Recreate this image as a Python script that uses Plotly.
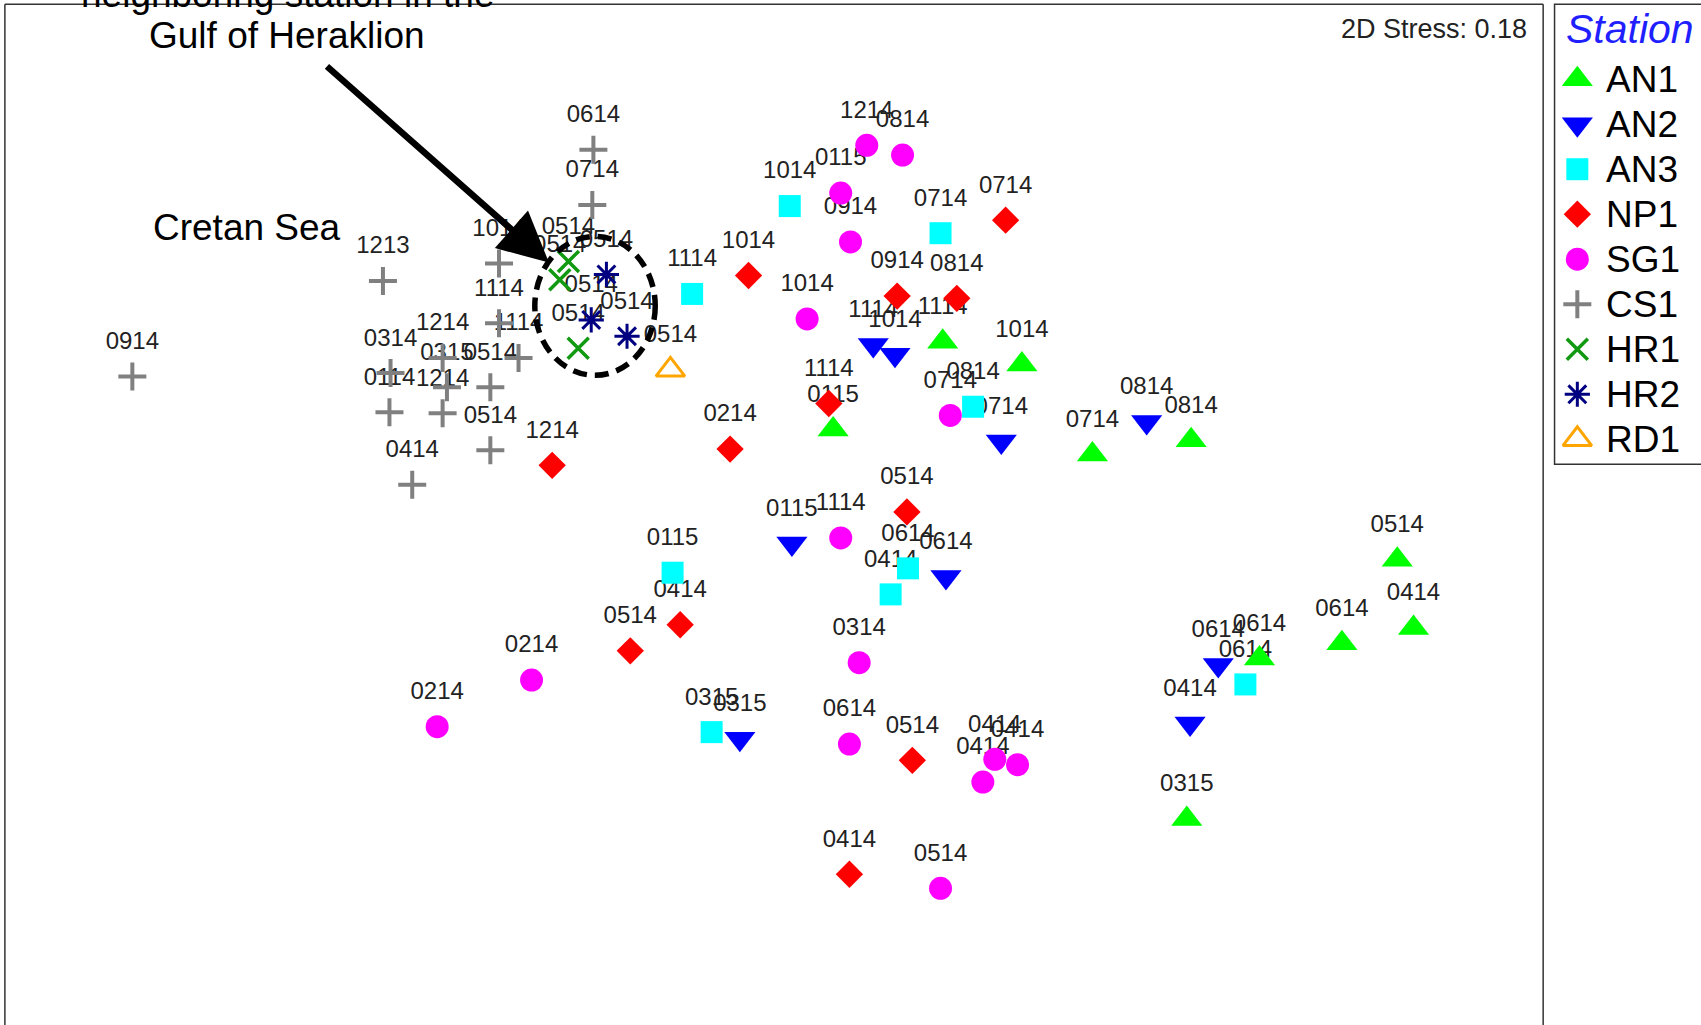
import plotly.graph_objects as go

# ---------------- data: nMDS ordination coordinates (arbitrary units) ----------------
an1_lab = ["1114", "1014", "0115", "0714", "0814", "0514", "0414", "0614", "0614", "0315"]
an1_x = [869, 942, 768, 1007, 1098, 1288, 1303, 1237, 1161, 1094]
an1_y = [315, 336, 396, 419, 406, 516, 579, 593, 607, 755]

an2_lab = ["1114", "1014", "0714", "0814", "0115", "0614", "0614", "0414", "0315"]
an2_x = [805, 825, 923, 1057, 730, 872, 1123, 1097, 682]
an2_y = [318, 327, 407, 389, 501, 532, 613, 667, 681]

an3_lab = ["1014", "0714", "1114", "0814", "0115", "0614", "0414", "0614", "0315"]
an3_x = [728, 867, 638, 897, 620, 837, 821, 1148, 656]
an3_y = [190, 215, 271, 375, 528, 524, 548, 631, 675]

np1_lab = ["0714", "1014", "0914", "0814", "1114", "0214", "1214", "0514", "0414", "0514", "0514", "0414"]
np1_x = [927, 690, 827, 882, 764, 673, 509, 836, 627, 581, 841, 783]
np1_y = [203, 254, 273, 275, 372, 414, 429, 472, 576, 600, 701, 806]

sg1_lab = ["1214", "0814", "0115", "0914", "1014", "0714", "1114", "0314", "0214", "0214",
           "0614", "0414", "0414", "0414", "0514"]
sg1_x = [799, 832, 775, 784, 744, 876, 775, 792, 490, 403, 783, 917, 938, 906, 867]
sg1_y = [134, 143, 178, 223, 294, 383, 496, 611, 627, 670, 686, 700, 705, 721, 819]

cs1_lab = ["0614", "0714", "1014", "1213", "1114", "1114", "1214", "0314", "0315", "0514",
           "0114", "1214", "0514", "0414", "0914"]
cs1_x = [547, 546, 460, 353, 460, 478, 408, 360, 412, 452, 359, 408, 452, 380, 122]
cs1_y = [138, 189, 243, 259, 298, 330, 330, 344, 357, 357, 380, 381, 415, 447, 347]

hr1_lab = ["0514", "0514", "0514"]
hr1_x = [524, 516, 533]
hr1_y = [241, 258, 321]

hr2_lab = ["0514", "0514", "0514"]
hr2_x = [559, 545, 578]
hr2_y = [253, 295, 310]

rd1_lab = ["0514"]
rd1_x = [618]
rd1_y = [341]

station_names = ["AN1", "AN2", "AN3", "NP1", "SG1", "CS1", "HR1", "HR2", "RD1"]
stress_text = "2D Stress: 0.18"

# ---------------- styles ----------------
styles = {
    "AN1": dict(symbol="triangle-up", size=27, color="#00FF00", lw=0),
    "AN2": dict(symbol="triangle-down", size=27, color="#0000FF", lw=0),
    "AN3": dict(symbol="square", size=22, color="#00FFFF", lw=0),
    "NP1": dict(symbol="diamond", size=21, color="#FF0000", lw=0),
    "SG1": dict(symbol="circle", size=23, color="#FF00FF", lw=0),
    "CS1": dict(symbol="cross-thin", size=20, color="#808080", lw=4),
    "HR1": dict(symbol="x-thin", size=21, color="#119911", lw=3.5),
    "HR2": dict(symbol="asterisk", size=21, color="#000080", lw=3),
    "RD1": dict(symbol="triangle-up-open", size=25, color="#FFA500", lw=3),
}

groups = [
    ("AN1", an1_x, an1_y, an1_lab),
    ("AN2", an2_x, an2_y, an2_lab),
    ("AN3", an3_x, an3_y, an3_lab),
    ("NP1", np1_x, np1_y, np1_lab),
    ("SG1", sg1_x, sg1_y, sg1_lab),
    ("CS1", cs1_x, cs1_y, cs1_lab),
    ("HR1", hr1_x, hr1_y, hr1_lab),
    ("HR2", hr2_x, hr2_y, hr2_lab),
    ("RD1", rd1_x, rd1_y, rd1_lab),
]

LABEL_DY = 31
FONT_FAMILY = "Liberation Sans, Arial, sans-serif"
LABEL_FONT = dict(family=FONT_FAMILY, size=24, color="#222222")
BIG_FONT = dict(family=FONT_FAMILY, size=37, color="black")

fig = go.Figure()

# sample labels (drawn first so markers sit on top)
for name, xs, ys, labs in groups:
    fig.add_trace(go.Scatter(
        x=xs, y=[v - LABEL_DY for v in ys], mode="text", text=labs,
        textposition="middle center", textfont=LABEL_FONT,
        hoverinfo="skip", showlegend=False))


def marker_of(name):
    s = styles[name]
    m = dict(symbol=s["symbol"], size=s["size"], color=s["color"])
    m["line"] = dict(width=s["lw"], color=s["color"])
    return m


for name, xs, ys, labs in groups:
    fig.add_trace(go.Scatter(
        x=xs, y=ys, mode="markers", name=name, text=labs,
        marker=marker_of(name), showlegend=False,
        hovertemplate=name + " %{text}<extra></extra>"))

# custom legend (same coordinate system)
LEG_SYM_X = 1454
LEG_TXT_X = 1479
LEG_Y0 = 73
LEG_STEP = 41.5
for i, name in enumerate(station_names):
    yy = LEG_Y0 + i * LEG_STEP
    fig.add_trace(go.Scatter(x=[LEG_SYM_X], y=[yy], mode="markers",
                             marker=marker_of(name), hoverinfo="skip", showlegend=False))
    fig.add_annotation(x=LEG_TXT_X, y=yy, xref="x", yref="y", text=name, showarrow=False,
                       xanchor="left", yanchor="middle",
                       font=dict(family=FONT_FAMILY, size=37, color="black"))

fig.add_annotation(x=1442, y=27, xref="x", yref="y", text="<i>Station</i>", showarrow=False,
                   xanchor="left", yanchor="middle",
                   font=dict(family=FONT_FAMILY, size=41, color="#1f1fff"))

# frame + legend box
frame_col = "#333333"
fig.add_shape(type="line", x0=4.5, x1=4.5, y0=4, y1=1000, line=dict(color=frame_col, width=1.5))
fig.add_shape(type="line", x0=4.5, x1=1422.5, y0=4, y1=4, line=dict(color=frame_col, width=1.5))
fig.add_shape(type="line", x0=1422.5, x1=1422.5, y0=4, y1=1000, line=dict(color=frame_col, width=1.5))
fig.add_shape(type="rect", x0=1433, x1=1600, y0=4, y1=428, line=dict(color=frame_col, width=1.5))

# dashed circle around Heraklion samples
fig.add_shape(type="circle", x0=493, x1=604, y0=218, y1=346,
              line=dict(color="black", width=5.5, dash="14px,8px"))

# text annotations
fig.add_annotation(x=1409, y=27, xref="x", yref="y", text=stress_text, showarrow=False,
                   xanchor="right", yanchor="middle",
                   font=dict(family=FONT_FAMILY, size=27, color="#222222"))
fig.add_annotation(x=265, y=33, xref="x", yref="y", text="Gulf of Heraklion", showarrow=False,
                   xanchor="center", yanchor="middle", font=BIG_FONT)
fig.add_annotation(x=265, y=1, xref="x", yref="paper", yshift=6, text="neighboring station in the",
                   showarrow=False, xanchor="center", yanchor="middle", font=BIG_FONT)
fig.add_annotation(x=228, y=210, xref="x", yref="y", text="Cretan Sea", showarrow=False,
                   xanchor="center", yanchor="middle", font=BIG_FONT)

# arrow
fig.add_annotation(x=506, y=242, ax=300, ay=60, xref="x", yref="y", axref="x", ayref="y",
                   text="", showarrow=True, arrowhead=2, arrowsize=1.54, arrowwidth=6.5,
                   arrowcolor="black")

fig.update_layout(
    width=1701, height=1025,
    margin=dict(l=0, r=0, t=0, b=0),
    paper_bgcolor="white", plot_bgcolor="white",
    xaxis=dict(range=[0, 1568], visible=False, fixedrange=True),
    yaxis=dict(range=[945, 0], visible=False, fixedrange=True),
    showlegend=False,
)

fig.write_html("out.html", config={"displayModeBar": False},
               post_script="document.body.style.margin='0px';document.body.style.overflow='hidden';")
